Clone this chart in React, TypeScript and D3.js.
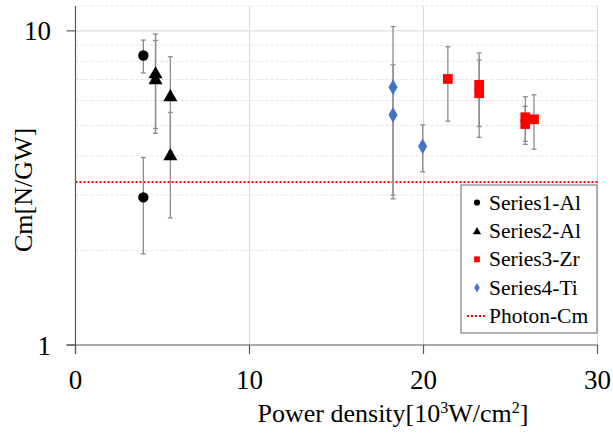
import React from "react";
import * as d3 from "d3";

const W = 613;
const H = 433;

type Pt = { x: number; y: number; e: number };

const series1Al: Pt[] = [
  { x: 3.9, y: 8.35, e: 1.0 },
  { x: 3.9, y: 2.95, e: 1.0 },
];
const series2Al: Pt[] = [
  { x: 4.6, y: 7.33, e: 2.44 },
  { x: 4.6, y: 7.02, e: 2.3 },
  { x: 5.45, y: 6.2, e: 2.07 },
  { x: 5.45, y: 4.02, e: 1.48 },
];
const series3Zr: Pt[] = [
  { x: 21.4, y: 7.03, e: 1.87 },
  { x: 23.2, y: 6.73, e: 1.77 },
  { x: 23.2, y: 6.33, e: 1.75 },
  { x: 25.85, y: 5.31, e: 0.86 },
  { x: 25.85, y: 5.05, e: 0.7 },
  { x: 26.35, y: 5.23, e: 1.03 },
];
const series4Ti: Pt[] = [
  { x: 18.25, y: 6.62, e: 3.7 },
  { x: 18.25, y: 5.4, e: 2.4 },
  { x: 19.95, y: 4.29, e: 0.73 },
];
const photonCm = 3.3;

const xTicks = [0, 10, 20, 30];
const yTicks = [1, 10];
const yMinor = [2, 3, 4, 5, 6, 7, 8, 9, 12];
const legendLabels = ["Series1-Al", "Series2-Al", "Series3-Zr", "Series4-Ti", "Photon-Cm"];

const FONT = "Liberation Serif, DejaVu Serif, serif";
const ERR = "#8c8c8c";
const GRID = "#d9d9d9";

export default function App() {
  const left = 75.5, right = 597.5, top = 6, bottom = 345;
  const x = d3.scaleLinear().domain([0, 30]).range([left, right]);
  const y = d3.scaleLog().domain([1, 12]).range([bottom, top]);

  const sym = (type: d3.SymbolType, size: number) => d3.symbol().type(type).size(size)() as string;
  const circle = sym(d3.symbolCircle, 85);
  const tri = sym(d3.symbolTriangle, 85);
  const square = sym(d3.symbolSquare, 95);
  const diamond = sym(d3.symbolDiamond, 72);

  const errBars = (data: Pt[], key: string) =>
    data.map((d, i) => {
      const cx = x(d.x);
      const y1 = y(d.y + d.e);
      const y0 = y(Math.max(d.y - d.e, 1.0001));
      return (
        <g key={key + i} stroke={ERR} strokeWidth={1.3}>
          <line x1={cx} x2={cx} y1={y0} y2={y1} />
          <line x1={cx - 2.5} x2={cx + 2.5} y1={y0} y2={y0} />
          <line x1={cx - 2.5} x2={cx + 2.5} y1={y1} y2={y1} />
        </g>
      );
    });

  const markers = (data: Pt[], path: string, fill: string, key: string, dy = 0) =>
    data.map((d, i) => (
      <path key={key + i} d={path} fill={fill} transform={`translate(${x(d.x)},${y(d.y) + dy})`} />
    ));

  const legX = 461, legY = 185, legW = 136, legH = 148;
  const rowY = (i: number) => legY + 17.5 + i * 28.4;
  const legSyms = [
    { path: circle, fill: "#000", dy: 0 },
    { path: tri, fill: "#000", dy: 1 },
    { path: square, fill: "#ff0000", dy: 0 },
    { path: diamond, fill: "#4472c4", dy: 0 },
  ];

  return (
    <svg width={W} height={H} style={{ position: "absolute", left: 0, top: 0, display: "block", background: "#fff" }}>
      <rect width={W} height={H} fill="#fff" />
      {yMinor.map((v) => (
        <line key={"m" + v} x1={left} x2={right} y1={y(v)} y2={y(v)} stroke="#e4e4e4" strokeWidth={1} strokeDasharray="3,2" />
      ))}
      <line x1={left} x2={right} y1={y(10)} y2={y(10)} stroke={GRID} strokeWidth={1} />
      {xTicks.filter((t) => t > 0).map((t) => (
        <line key={"vg" + t} x1={x(t)} x2={x(t)} y1={top} y2={bottom} stroke={GRID} strokeWidth={1} />
      ))}
      <line x1={left} x2={right} y1={y(photonCm)} y2={y(photonCm)} stroke="#ff0000" strokeWidth={2} strokeDasharray="2,2" />
      <line x1={left} x2={left} y1={top} y2={bottom + 9} stroke="#595959" strokeWidth={1.2} />
      <line x1={left - 9} x2={right} y1={bottom} y2={bottom} stroke="#595959" strokeWidth={1.2} />
      {xTicks.map((t) => (
        <line key={"xt" + t} x1={x(t)} x2={x(t)} y1={bottom} y2={bottom + 9} stroke="#595959" strokeWidth={1.2} />
      ))}
      {yTicks.map((t) => (
        <line key={"yt" + t} x1={left - 9} x2={left} y1={y(t)} y2={y(t)} stroke="#595959" strokeWidth={1.2} />
      ))}
      {xTicks.map((t) => (
        <text key={"xl" + t} x={x(t)} y={389} textAnchor="middle" fontFamily={FONT} fontSize={27} fill="#000">
          {t}
        </text>
      ))}
      {yTicks.map((t) => (
        <text key={"yl" + t} x={51} y={y(t) + 9.5} textAnchor="end" fontFamily={FONT} fontSize={27} fill="#000">
          {t}
        </text>
      ))}
      <text x={393} y={422} textAnchor="middle" fontFamily={FONT} fontSize={26} fill="#000">
        Power density[10<tspan dy={-9} fontSize={16}>3</tspan>
        <tspan dy={9}>W/cm</tspan>
        <tspan dy={-9} fontSize={16}>2</tspan>
        <tspan dy={9}>]</tspan>
      </text>
      <text transform={`translate(32,190) rotate(-90)`} textAnchor="middle" fontFamily={FONT} fontSize={26} fill="#000">
        Cm[N/GW]
      </text>
      {errBars(series1Al, "e1")}
      {errBars(series2Al, "e2")}
      {errBars(series3Zr, "e3")}
      {errBars(series4Ti, "e4")}
      {markers(series1Al, circle, "#000", "c")}
      {markers(series2Al, tri, "#000", "t", 1)}
      {markers(series3Zr, square, "#ff0000", "s")}
      {markers(series4Ti, diamond, "#4472c4", "d")}
      <rect x={legX} y={legY} width={legW} height={legH} fill="#fff" stroke="#7f7f7f" strokeWidth={1.2} />
      {legSyms.map((s, i) => (
        <path key={"ls" + i} d={s.path} fill={s.fill} transform={`translate(${477},${rowY(i) + s.dy}) scale(0.6)`} />
      ))}
      <line x1={467} x2={487} y1={rowY(4)} y2={rowY(4)} stroke="#ff0000" strokeWidth={2} strokeDasharray="2,2" />
      {legendLabels.map((l, i) => (
        <text key={"ll" + i} x={489} y={rowY(i) + 7} fontFamily={FONT} fontSize={21.5} fill="#000">
          {l}
        </text>
      ))}
    </svg>
  );
}
